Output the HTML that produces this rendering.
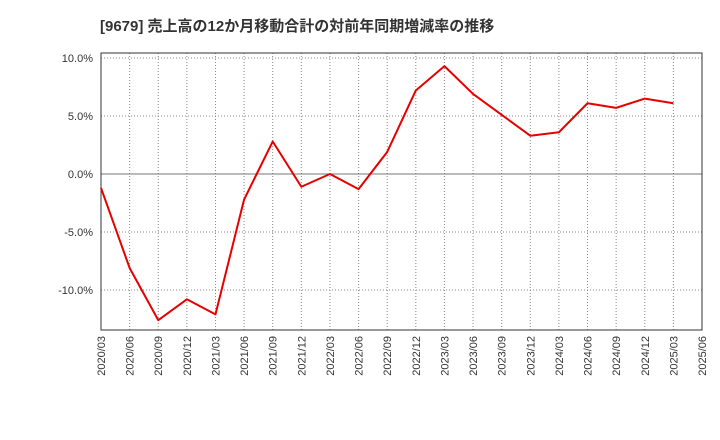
<!DOCTYPE html>
<html><head><meta charset="utf-8"><style>
body{margin:0;background:#fff;}
svg{display:block;font-family:"Liberation Sans","Noto Sans CJK JP",sans-serif;}
</style></head><body>
<svg id="chart" width="720" height="440">
<text x="100" y="31" font-size="15" font-weight="bold" fill="#333">[9679]  売上高の12か月移動合計の対前年同期増減率の推移</text>
<g id="grid"></g><g id="axes"></g><g id="series"></g>
</svg>
<script>
const categories=["2020/03","2020/06","2020/09","2020/12","2021/03","2021/06","2021/09","2021/12","2022/03","2022/06","2022/09","2022/12","2023/03","2023/06","2023/09","2023/12","2024/03","2024/06","2024/09","2024/12","2025/03","2025/06"];
const values=[-1.2,-8.1,-12.6,-10.8,-12.1,-2.2,2.8,-1.1,0.0,-1.3,1.9,7.2,9.3,6.9,5.1,3.3,3.6,6.1,5.7,6.5,6.1];
const yTicks=[10,5,0,-5,-10];
const yTickLabels=["10.0%","5.0%","0.0%","-5.0%","-10.0%"];
const L=101,R=702,T=53,B=330;
const NS="http://www.w3.org/2000/svg";
function x(i){return L+i*(R-L)/(categories.length-1);}
function y(v){return 174-v*11.6;}
function mk(tag,attrs,parent){const e=document.createElementNS(NS,tag);for(const k in attrs)e.setAttribute(k,attrs[k]);parent.appendChild(e);return e;}
const grid=document.getElementById('grid'),axes=document.getElementById('axes'),series=document.getElementById('series');
categories.forEach((c,i)=>{
 const l=mk('line',{x1:x(i),x2:x(i),y1:T,y2:B,stroke:'#888','stroke-dasharray':'1,2','stroke-width':1},grid);
 
 
 const t=mk('text',{transform:`translate(${x(i)+4},${B+6}) rotate(-90)`,'text-anchor':'end','font-size':11,fill:'#333'},axes);
 t.textContent=c;
 
 
});
yTicks.forEach((v,i)=>{
 const l=mk('line',{x1:L,x2:R,y1:y(v),y2:y(v),stroke:v===0?'#777':'#888','stroke-dasharray':v===0?'none':'1,2','stroke-width':1},grid);
 
 
 const t=mk('text',{x:L-8,y:y(v)+4,'text-anchor':'end','font-size':11,fill:'#333'},axes);
 t.textContent=yTickLabels[i];
 
 
});
const frame=mk('rect',{x:L,y:T,width:R-L,height:B-T,fill:'none',stroke:'#333','stroke-width':1},axes);


const p=mk('polyline',{points:values.map((v,i)=>x(i)+','+y(v)).join(' '),fill:'none',stroke:'#e60000','stroke-width':2,'stroke-linejoin':'round'},series);


</script>
</body></html>
